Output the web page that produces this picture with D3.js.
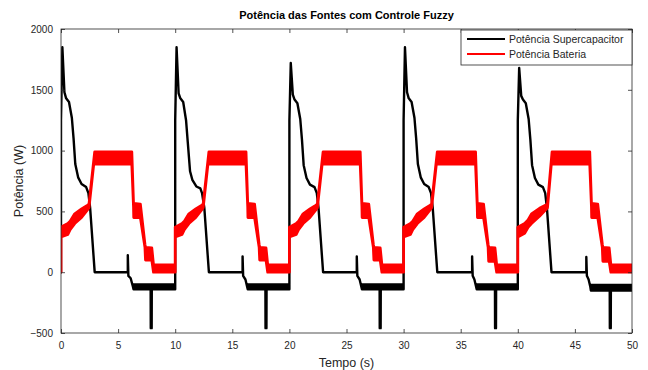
<!DOCTYPE html>
<html>
<head>
<meta charset="utf-8">
<script src="https://cdn.jsdelivr.net/npm/d3@7"></script>
<style>
  body { margin: 0; background: #fff; }
  text { font-family: "Liberation Sans", Arial, sans-serif; }
</style>
</head>
<body>
<div id="chart"></div>
<script>
// Axis ticks
const xTicks = [0, 5, 10, 15, 20, 25, 30, 35, 40, 45, 50];
const yTicks = [-500, 0, 500, 1000, 1500, 2000];
const seriesNames = ["Potência Supercapacitor", "Potência Bateria"];

// [tempo, low, high] - high omitted where the trace is a thin line
const supercap = [
    [0, 0], [0, 1250], [0.12, 1850], [0.3, 1480], [0.45, 1430], [0.7, 1400], [0.95, 1270], [1.1, 1100],
    [1.25, 890], [1.5, 780], [1.8, 725], [2.2, 700], [2.4, 650], [2.55, 530], [2.95, 0], [5.85, 0],
    [5.85, 140], [5.9, -30], [6.1, -50], [6.3, -120], [6.35, -140, -100], [7.85, -140, -100],
    [7.86, -460, -100], [7.94, -460, -100], [7.95, -140, -100], [10, -140, -100],

    [10, 1250], [10.12, 1850], [10.3, 1470], [10.45, 1430], [10.7, 1400], [10.95, 1250], [11.1, 1070],
    [11.3, 830], [11.5, 760], [11.85, 705], [12.2, 690], [12.35, 650], [12.55, 530], [12.95, 0], [15.9, 0],
    [15.9, 130], [15.95, -30], [16.15, -60], [16.3, -120], [16.35, -140, -100], [17.9, -140, -100],
    [17.91, -460, -100], [17.99, -460, -100], [18.0, -140, -100], [20, -140, -100],

    [20, 1250], [20.12, 1720], [20.3, 1460], [20.45, 1420], [20.7, 1390], [20.95, 1260], [21.1, 1090],
    [21.25, 880], [21.5, 775], [21.8, 720], [22.2, 700], [22.4, 650], [22.55, 530], [22.95, 0], [25.9, 0],
    [25.9, 130], [25.95, -30], [26.15, -60], [26.3, -120], [26.35, -140, -100], [27.9, -140, -100],
    [27.91, -460, -100], [27.99, -460, -100], [28.0, -140, -100], [30, -140, -100],

    [30, 1250], [30.12, 1850], [30.3, 1480], [30.45, 1430], [30.7, 1400], [30.95, 1270], [31.1, 1100],
    [31.25, 890], [31.5, 780], [31.8, 725], [32.2, 700], [32.4, 650], [32.55, 530], [32.95, 0], [36.0, 0],
    [36.0, 130], [36.05, -30], [36.2, -60], [36.35, -120], [36.4, -140, -100], [38.0, -140, -100],
    [38.01, -460, -100], [38.09, -460, -100], [38.1, -140, -100], [40, -140, -100],

    [40, 1250], [40.12, 1680], [40.3, 1450], [40.45, 1420], [40.7, 1390], [40.95, 1260], [41.1, 1090],
    [41.25, 880], [41.5, 775], [41.8, 720], [42.2, 700], [42.4, 650], [42.55, 530], [42.95, 0], [46.0, 0],
    [46.0, 125], [46.05, -30], [46.2, -60], [46.35, -120], [46.4, -150, -105], [48.05, -150, -105],
    [48.06, -460, -105], [48.14, -460, -105], [48.15, -150, -105], [50, -150, -105]
];

const bateria = [
    [0, 0], [0, 290, 370], [0.6, 310, 400], [0.8, 350, 420], [1.2, 400, 480], [1.8, 450, 520], [2.3, 510, 550],
    [2.45, 530, 560], [2.95, 960, 990], [3.0, 890, 990], [6.2, 890, 990], [6.35, 540, 565], [6.37, 450, 565],
    [6.95, 450, 560], [7.35, 205, 230], [7.4, 100, 205], [7.95, 100, 200], [8.1, 0, 60], [10, 0, 60],

    [10, 290, 370], [10.6, 310, 400], [10.8, 350, 420], [11.2, 400, 480], [11.8, 450, 520], [12.3, 510, 550],
    [12.45, 530, 560], [12.95, 960, 990], [13.0, 890, 990], [16.2, 890, 990], [16.35, 540, 565], [16.37, 450, 565],
    [16.95, 450, 560], [17.35, 205, 230], [17.4, 100, 205], [17.95, 100, 200], [18.1, 0, 60], [20, 0, 60],

    [20, 290, 370], [20.6, 310, 400], [20.8, 350, 420], [21.2, 400, 480], [21.8, 450, 520], [22.3, 510, 550],
    [22.45, 530, 560], [22.95, 960, 990], [23.0, 890, 990], [26.2, 890, 990], [26.35, 540, 565], [26.37, 450, 565],
    [26.95, 450, 560], [27.35, 205, 230], [27.4, 100, 205], [27.95, 100, 200], [28.1, 0, 60], [30, 0, 60],

    [30, 290, 370], [30.6, 310, 400], [30.8, 350, 420], [31.2, 400, 480], [31.8, 450, 520], [32.3, 510, 550],
    [32.45, 530, 560], [32.95, 960, 990], [33.0, 890, 990], [36.3, 890, 990], [36.45, 540, 565], [36.47, 450, 565],
    [37.0, 450, 560], [37.4, 205, 230], [37.45, 90, 205], [38.0, 90, 200], [38.15, 0, 60], [40, 0, 60],

    [40, 290, 370], [40.6, 320, 400], [40.9, 370, 430], [41.2, 400, 480], [41.9, 460, 525], [42.5, 520, 555],
    [42.6, 530, 560], [43.0, 960, 990], [43.05, 890, 990], [46.3, 890, 990], [46.45, 540, 565], [46.47, 450, 565],
    [47.0, 450, 560], [47.4, 205, 230], [47.45, 90, 205], [48.0, 90, 200], [48.15, 0, 60], [50, 0, 60]
];

const width = 648, height = 370;
const margin = { top: 29, right: 16, bottom: 37, left: 61 };
const axisColor = "#262626";

const svg = d3.select("#chart").append("svg")
    .attr("width", width)
    .attr("height", height)
    .style("background", "#ffffff");

const x = d3.scaleLinear().domain([0, 50]).range([margin.left, width - margin.right]);
const y = d3.scaleLinear().domain([-500, 2000]).range([height - margin.bottom, margin.top]);

svg.append("clipPath").attr("id", "plot-clip")
    .append("rect")
    .attr("x", margin.left).attr("y", margin.top)
    .attr("width", width - margin.left - margin.right)
    .attr("height", height - margin.top - margin.bottom);

// Envelope area: thin where low == high, filled band where the signal chatters
const band = d3.area()
    .x(d => x(d[0]))
    .y0(d => y(d[1]))
    .y1(d => y(d.length > 2 ? d[2] : d[1]));

const plot = svg.append("g").attr("clip-path", "url(#plot-clip)");

plot.append("path")
    .datum(supercap)
    .attr("d", band)
    .attr("fill", "#000")
    .attr("stroke", "#000")
    .attr("stroke-width", 2.4)
    .attr("stroke-linejoin", "round");

plot.append("path")
    .datum(bateria)
    .attr("d", band)
    .attr("fill", "#ff0000")
    .attr("stroke", "#ff0000")
    .attr("stroke-width", 2.8)
    .attr("stroke-linejoin", "round");

// Axes, MATLAB style: ticks inward on all four sides
function styleAxis(g) {
    g.select(".domain").remove();
    g.selectAll(".tick line").attr("stroke", axisColor).attr("stroke-width", 0.8);
    g.selectAll(".tick text")
        .attr("fill", axisColor)
        .style("font-size", "10px");
}

svg.append("g")
    .attr("transform", `translate(0,${height - margin.bottom})`)
    .call(d3.axisBottom(x).tickValues(xTicks).tickSize(-4).tickPadding(9).tickFormat(d3.format("d")))
    .call(styleAxis);

svg.append("g")
    .attr("transform", `translate(0,${margin.top})`)
    .call(d3.axisTop(x).tickValues(xTicks).tickSize(-4).tickFormat(""))
    .call(styleAxis);

svg.append("g")
    .attr("transform", `translate(${margin.left},0)`)
    .call(d3.axisLeft(y).tickValues(yTicks).tickSize(-4).tickPadding(8).tickFormat(d3.format("d")))
    .call(styleAxis);

svg.append("g")
    .attr("transform", `translate(${width - margin.right},0)`)
    .call(d3.axisRight(y).tickValues(yTicks).tickSize(-4).tickFormat(""))
    .call(styleAxis);

svg.append("rect")
    .attr("x", margin.left).attr("y", margin.top)
    .attr("width", width - margin.left - margin.right)
    .attr("height", height - margin.top - margin.bottom)
    .attr("fill", "none")
    .attr("stroke", axisColor)
    .attr("stroke-width", 0.8);

// Title and axis labels
svg.append("text")
    .attr("x", (margin.left + width - margin.right) / 2)
    .attr("y", 19)
    .attr("text-anchor", "middle")
    .style("font-size", "11px")
    .style("font-weight", "bold")
    .attr("fill", "#000")
    .text("Potência das Fontes com Controle Fuzzy");

svg.append("text")
    .attr("x", (margin.left + width - margin.right) / 2)
    .attr("y", 367)
    .attr("text-anchor", "middle")
    .style("font-size", "12.5px")
    .attr("fill", axisColor)
    .text("Tempo (s)");

svg.append("text")
    .attr("transform", `translate(23,${(margin.top + height - margin.bottom) / 2}) rotate(-90)`)
    .attr("text-anchor", "middle")
    .style("font-size", "12.5px")
    .attr("fill", axisColor)
    .text("Potência (W)");

// Legend box in the upper right corner
const legend = svg.append("g");
legend.append("rect")
    .attr("x", 461).attr("y", margin.top + 1)
    .attr("width", width - margin.right - 461)
    .attr("height", 35)
    .attr("fill", "#fff")
    .attr("stroke", axisColor)
    .attr("stroke-width", 0.8);

const legendColors = ["#000", "#ff0000"];
seriesNames.forEach((name, i) => {
    const ly = 39 + i * 15;
    legend.append("line")
        .attr("x1", 467).attr("x2", 505)
        .attr("y1", ly).attr("y2", ly)
        .attr("stroke", legendColors[i])
        .attr("stroke-width", 2);
    legend.append("text")
        .attr("x", 509)
        .attr("y", ly)
        .attr("dy", "0.35em")
        .style("font-size", "10.5px")
        .attr("fill", axisColor)
        .text(name);
});
</script>
</body>
</html>
